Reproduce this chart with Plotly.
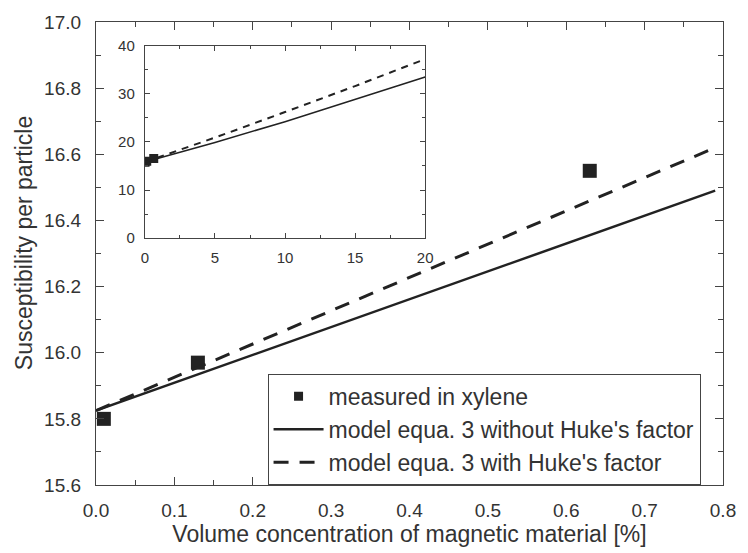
import plotly.graph_objects as go

# measured data
meas_x = [0.01, 0.13, 0.63]
meas_y = [15.80, 15.97, 16.55]

# model curves (main range)
model_x = [0.0, 0.2, 0.4, 0.6, 0.79]
model_no_huke = [15.825, 15.993, 16.161, 16.329, 16.49]
model_huke = [15.825, 16.026, 16.227, 16.428, 16.62]

# model curves (inset, extended range)
inset_x = [0, 5, 10, 15, 20]
inset_no_huke = [15.83, 19.9, 24.2, 28.8, 33.5]
inset_huke = [15.83, 20.9, 26.2, 31.6, 37.2]

FONT = "Liberation Sans, Arial, sans-serif"
TXT = "#333333"
LINE = "#222222"

fig = go.Figure()

fig.add_trace(go.Scatter(x=meas_x, y=meas_y, mode="markers", name="measured in xylene",
                         showlegend=False,
                         marker=dict(symbol="square", size=14, color=LINE)))
# legend entry with smaller symbol, like the reference
fig.add_trace(go.Scatter(x=[None], y=[None], mode="markers", name="measured in xylene",
                         marker=dict(symbol="square", size=9, color=LINE)))
fig.add_trace(go.Scatter(x=model_x, y=model_no_huke, mode="lines",
                         name="model equa. 3 without Huke's factor",
                         line=dict(color=LINE, width=2.5)))
fig.add_trace(go.Scatter(x=model_x, y=model_huke, mode="lines",
                         name="model equa. 3 with Huke's factor",
                         line=dict(color=LINE, width=3, dash="15px,11px")))

# inset
fig.add_trace(go.Scatter(x=meas_x, y=meas_y, mode="markers", showlegend=False,
                         marker=dict(symbol="square", size=9, color=LINE),
                         xaxis="x2", yaxis="y2"))
fig.add_trace(go.Scatter(x=inset_x, y=inset_no_huke, mode="lines", showlegend=False,
                         line=dict(color=LINE, width=1.5), xaxis="x2", yaxis="y2"))
fig.add_trace(go.Scatter(x=inset_x, y=inset_huke, mode="lines", showlegend=False,
                         line=dict(color=LINE, width=2, dash="7px,6px"), xaxis="x2", yaxis="y2"))

axis_common = dict(showgrid=False, zeroline=False, showline=True, linecolor="#444",
                   linewidth=1.2, mirror="ticks", ticks="inside", tickcolor="#444")

fig.update_layout(
    width=748, height=553,
    margin=dict(l=96, r=16, t=15, b=67),
    plot_bgcolor="white", paper_bgcolor="white",
    font=dict(family=FONT, color=TXT, size=19),
    xaxis=dict(range=[0, 0.8], dtick=0.1, tickformat=".1f", ticklen=8,
               ticklabelstandoff=8, tickfont=dict(size=19),
               minor=dict(ticks="inside", dtick=0.05, ticklen=5, tickcolor="#444"),
               title=dict(text="Volume concentration of magnetic material [%]",
                          font=dict(size=23), standoff=4),
               **axis_common),
    yaxis=dict(range=[15.6, 17.0], dtick=0.2, tickformat=".1f", ticklen=8,
               ticklabelstandoff=10, tickfont=dict(size=19),
               minor=dict(ticks="inside", dtick=0.1, ticklen=5, tickcolor="#444"),
               **axis_common),
    xaxis2=dict(domain=[0.078, 0.525], anchor="y2", range=[0, 20], dtick=5, ticklen=5,
                ticklabelstandoff=6,
                minor=dict(ticks="inside", dtick=2.5, ticklen=3, tickcolor="#444"),
                tickfont=dict(size=15), **axis_common),
    yaxis2=dict(domain=[0.533, 0.949], anchor="x2", range=[0, 40], dtick=10, ticklen=5,
                ticklabelstandoff=6,
                minor=dict(ticks="inside", dtick=5, ticklen=3, tickcolor="#444"),
                tickfont=dict(size=15), **axis_common),
    legend=dict(x=0.2736, y=0.24, xanchor="left", yanchor="top",
                bordercolor="#444", borderwidth=1, bgcolor="white",
                font=dict(size=23), tracegroupgap=0, itemwidth=50),
    showlegend=True,
    annotations=[dict(text="Susceptibility per particle", textangle=-90,
                      xref="paper", yref="paper", x=-0.115, y=0.522,
                      xanchor="center", yanchor="middle", showarrow=False,
                      font=dict(size=23, color=TXT))],
)

fig.write_html("out.html")
